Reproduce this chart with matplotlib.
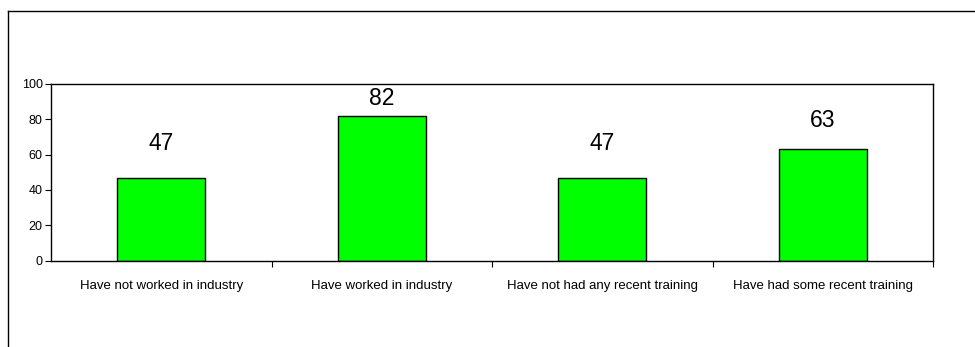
import matplotlib.pyplot as plt
from matplotlib.lines import Line2D

plt.rcParams['font.family'] = ['Liberation Sans', 'DejaVu Sans']

categories = ['Have not worked in industry', 'Have worked in industry',
              'Have not had any recent training', 'Have had some recent training']
values = [47, 82, 47, 63]
yticks = [0, 20, 40, 60, 80, 100]

# label offsets above bar tops (points), as placed in the original
label_offsets = [16, 4, 16, 12.5]

fig = plt.figure(figsize=(9.75, 3.47), dpi=100)
ax = fig.add_axes([51 / 975, 1 - 260.5 / 347, (933 - 51) / 975, (260.5 - 84) / 347])

x = range(len(categories))
ax.bar(x, values, width=0.4, color='#00ff00', edgecolor='black', linewidth=1)

for i, v in enumerate(values):
    ax.annotate(str(v), (i, v), xytext=(0, label_offsets[i]), textcoords='offset points',
                ha='center', va='bottom', fontsize=16.5)

ax.set_xlim(-0.5, len(categories) - 0.5)
ax.set_ylim(0, 100)
ax.set_yticks(yticks)
ax.tick_params(axis='y', labelsize=9, length=4, width=0.8, pad=2)
ax.set_xticks(list(x))
ax.set_xticklabels(categories)
ax.tick_params(axis='x', which='major', length=0, labelsize=9.5, pad=14)
ax.set_xticks([i + 0.5 for i in range(len(categories))], minor=True)
ax.tick_params(axis='x', which='minor', length=4, width=0.8)
for s in ax.spines.values():
    s.set_linewidth(1)

# outer chart frame (left and top edges visible)
fig.add_artist(Line2D([7.5 / 975, 7.5 / 975], [0, 1 - 10.5 / 347], color='black', linewidth=1))
fig.add_artist(Line2D([7.5 / 975, 1], [1 - 10.5 / 347, 1 - 10.5 / 347], color='black', linewidth=1))

fig.savefig('out.png', dpi=100)
